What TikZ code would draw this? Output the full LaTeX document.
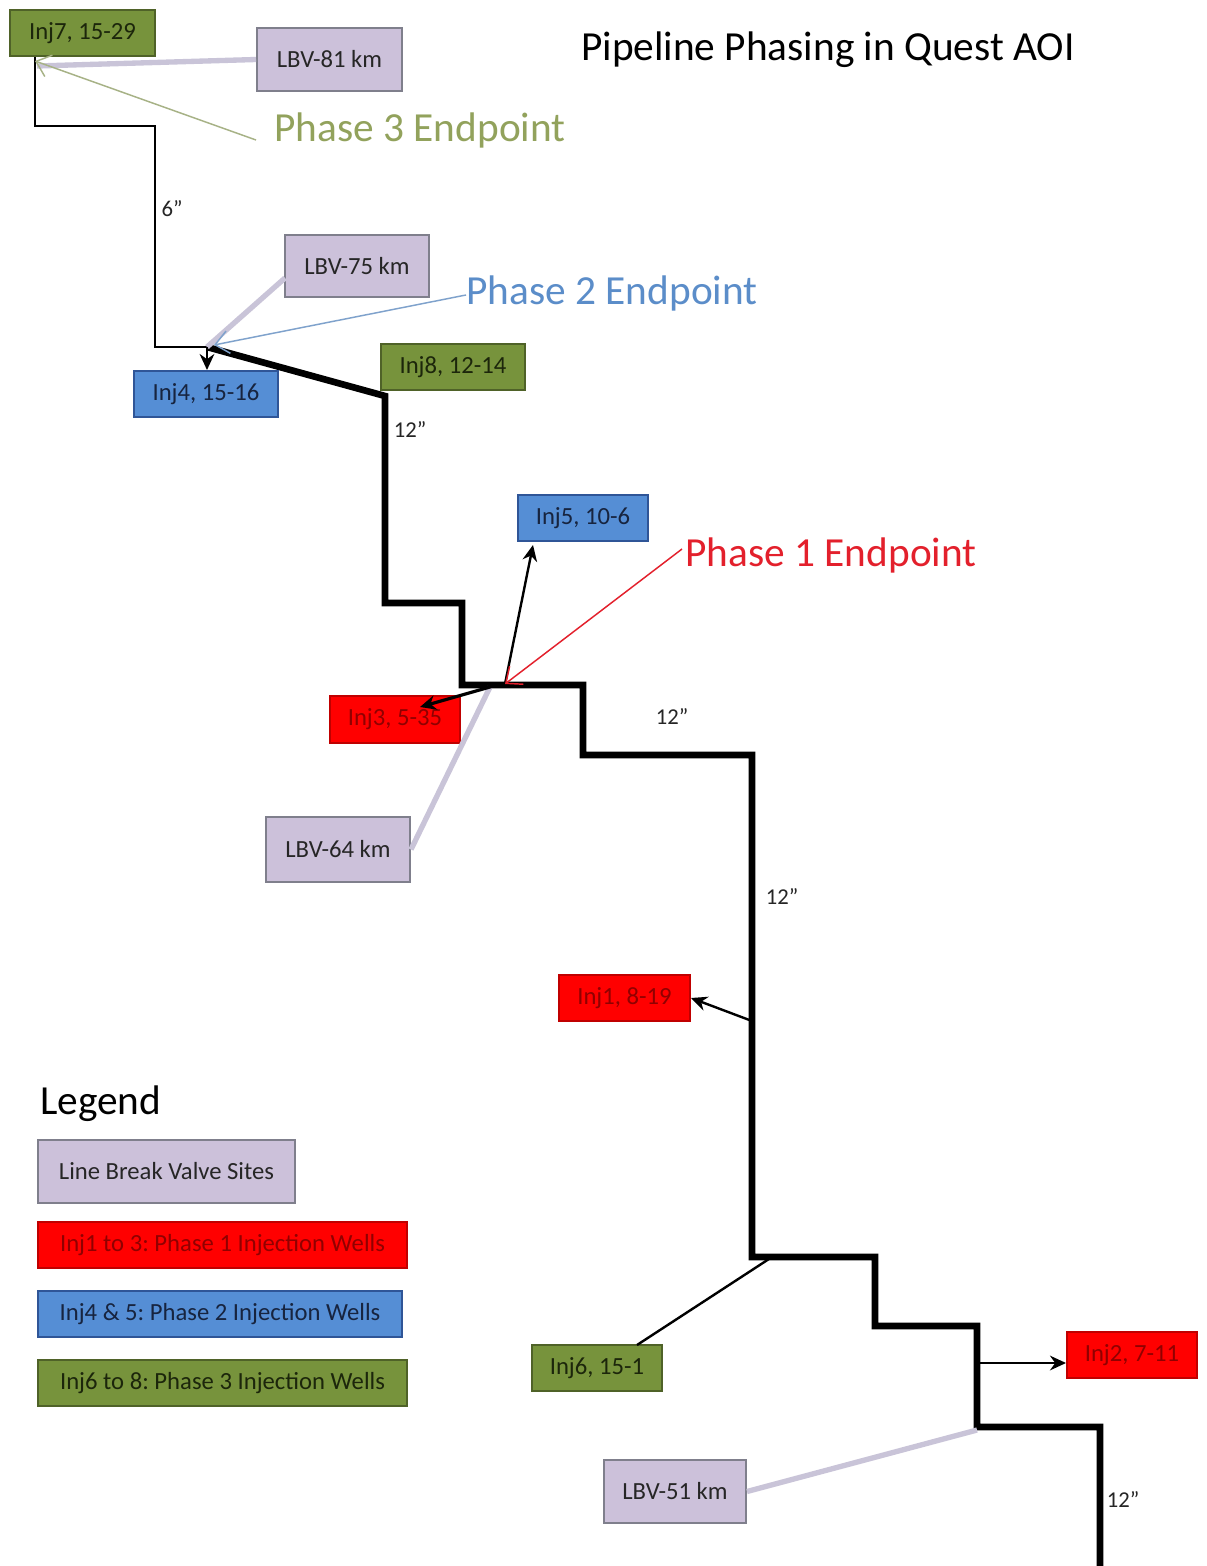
\documentclass[tikz,border=0pt]{standalone}
\usepackage{fontspec}
\setmainfont{Carlito}
\usetikzlibrary{arrows.meta}

\definecolor{lavfill}{HTML}{CCC1DA}
\definecolor{lavline}{HTML}{C9C4D8}
\definecolor{lavedge}{HTML}{7F7F8C}
\definecolor{grnfill}{HTML}{77933C}
\definecolor{grnedge}{HTML}{4F6228}
\definecolor{grntext}{HTML}{1C260B}
\definecolor{redfill}{HTML}{FF0000}
\definecolor{rededge}{HTML}{C00000}
\definecolor{redtext}{HTML}{900000}
\definecolor{blufill}{HTML}{558ED5}
\definecolor{bluedge}{HTML}{2F5597}
\definecolor{blutext}{HTML}{17243F}
\definecolor{phthree}{HTML}{92A25C}
\definecolor{phthreeline}{HTML}{A7B286}
\definecolor{phtwo}{HTML}{5B8DC9}
\definecolor{phtwoline}{HTML}{7FA2CC}
\definecolor{phone}{HTML}{E3202C}

\tikzset{
  wh/.style 2 args={minimum width=#1*0.75pt, minimum height=#2*0.75pt},
  boxbase/.style={draw, line width=1.5pt, inner sep=0pt,
    font=\fontsize{18.5}{22}\selectfont},
  lbv/.style={boxbase, fill=lavfill, draw=lavedge, text=black!85},
  gbox/.style={boxbase, fill=grnfill, draw=grnedge, text=grntext},
  rbox/.style={boxbase, fill=redfill, draw=rededge, text=redtext},
  bbox/.style={boxbase, fill=blufill, draw=bluedge, text=blutext},
  bigtext/.style={font=\fontsize{31}{37}\selectfont, inner sep=0pt},
  sizelabel/.style={font=\fontsize{17}{20}\selectfont, inner sep=0pt, text=black!85},
  thinpipe/.style={line width=2.2pt, line join=miter},
  thickpipe/.style={line width=5pt, line join=miter},
  valveline/.style={lavline, line width=4pt},
  feed/.style={line width=1.8pt, -{Stealth[length=12pt,width=11pt]}},
  pointer/.style={line width=1.1pt, -{Straight Barb[length=10pt,width=17pt]}},
}

\begin{document}
\begin{tikzpicture}[x=0.75pt,y=-0.75pt]
  % canvas
  \fill[white] (0,0) rectangle (1206,1566);
  \useasboundingbox (0,0) rectangle (1206,1566);

  % title and legend heading
  \node[bigtext] (title) at (828,50) {Pipeline Phasing in Quest AOI};
  \node[bigtext, anchor=west] (legendhead) at (40,1104) {Legend};

  % junction points along the pipeline
  \coordinate (p0) at (35,56);
  \coordinate (p1) at (35,126);
  \coordinate (p2) at (155,126);
  \coordinate (p3) at (155,347);
  \coordinate (j75) at (207,347);
  \coordinate (q1) at (385,396);
  \coordinate (q2) at (385,603);
  \coordinate (q3) at (462,603);
  \coordinate (q4) at (462,685);
  \coordinate (q5) at (583,685);
  \coordinate (q6) at (583,755);
  \coordinate (q7) at (752,755);
  \coordinate (q8) at (752,1257);
  \coordinate (q9) at (875,1257);
  \coordinate (q10) at (875,1326);
  \coordinate (q11) at (977,1326);
  \coordinate (q12) at (977,1427);
  \coordinate (q13) at (1100,1427);
  \coordinate (q14) at (1100,1570);
  \coordinate (j3) at (497,685);
  \coordinate (j64) at (490,687);
  \coordinate (j1) at (505,684);
  \coordinate (jinj1) at (752,1021);
  \coordinate (j6) at (772,1257);
  \coordinate (jinj2) at (977,1363);
  \coordinate (j51) at (977,1430);
  \coordinate (j81) at (37,66);
  \coordinate (end3) at (35,61);
  \coordinate (end2) at (214,345);

  % lateral end points at the wells
  \coordinate (t5) at (533,545);
  \coordinate (t3) at (420,707);
  \coordinate (t6) at (637,1345);
  \coordinate (l75) at (285,278);
  \coordinate (s3) at (256,140);
  \coordinate (s2) at (466,295);
  \coordinate (s1) at (682,549);

  % pipeline: 6" segment, then 12" trunk
  \draw[thinpipe] (p0) -- (p1) -- (p2) -- (p3) -- (j75);
  \draw[thickpipe] (j75) -- (q1) -- (q2) -- (q3) -- (q4) -- (q5) -- (q6)
    -- (q7) -- (q8) -- (q9) -- (q10) -- (q11) -- (q12) -- (q13) -- (q14);

  % pipe size labels
  \node[sizelabel] (s6) at (172,209) {6”};
  \node[sizelabel] (s12a) at (410,430) {12”};
  \node[sizelabel] (s12b) at (672,717) {12”};
  \node[sizelabel] (s12c) at (782,896) {12”};
  \node[sizelabel] (s12d) at (1123,1499) {12”};

  % wells
  \node[gbox, wh={145}{46}] (inj7) at (82.5,33) {Inj7, 15-29};
  \node[bbox, wh={144}{46}] (inj4) at (206,394) {Inj4, 15-16};
  \node[gbox, wh={144}{46}] (inj8) at (453,367) {Inj8, 12-14};
  \node[bbox, wh={130}{46}] (inj5) at (583,518) {Inj5, 10-6};
  \node[rbox, wh={130}{47}] (inj3) at (395,719.5) {Inj3, 5-35};
  \node[rbox, wh={131}{46}] (inj1) at (624.5,998) {Inj1, 8-19};
  \node[gbox, wh={130}{46}] (inj6) at (597,1368) {Inj6, 15-1};
  \node[rbox, wh={130}{46}] (inj2) at (1132,1355) {Inj2, 7-11};

  % line break valves
  \node[lbv, wh={145}{63}] (lbv81) at (329.5,59.5) {LBV-81 km};
  \node[lbv, wh={144}{62}] (lbv75) at (357,266) {LBV-75 km};
  \node[lbv, wh={144}{65}] (lbv64) at (338,849.5) {LBV-64 km};
  \node[lbv, wh={142}{63}] (lbv51) at (675,1491.5) {LBV-51 km};

  % valve leaders
  \draw[valveline] (lbv81.west) -- (j81);
  \draw[valveline] (l75) -- (j75);
  \draw[valveline] (lbv64.east) -- (j64);
  \draw[valveline] (lbv51.east) -- (j51);

  % well laterals
  \draw[feed] (j75) -- (inj4.north -| j75);
  \draw[feed] (j1) -- (t5);
  \draw[feed, line width=2.4pt] (j3) -- (t3);
  \draw[feed] (jinj1) -- (inj1.east);
  \draw[feed] (jinj2) -- (inj2.west |- jinj2);
  \draw[line width=1.8pt] (j6) -- (t6);

  % phase endpoints
  \node[bigtext, text=phthree] (ph3) at (420,130) {Phase 3 Endpoint};
  \node[bigtext, text=phtwo] (ph2) at (612,293) {Phase 2 Endpoint};
  \node[bigtext, text=phone] (ph1) at (831,555) {Phase 1 Endpoint};
  \draw[pointer, phthreeline] (s3) -- (end3);
  \draw[pointer, phtwoline] (s2) -- (end2);
  \draw[pointer, phone] (s1) -- (j1);

  % legend
  \node[lbv, wh={257}{63}] (leglbv) at (166.5,1171.5) {Line Break Valve Sites};
  \node[rbox, wh={369}{46}] (legred) at (222.5,1245) {Inj1 to 3:\ Phase 1 Injection Wells};
  \node[bbox, wh={364}{46}] (legblue) at (220,1314) {Inj4 \& 5:\ Phase 2 Injection Wells};
  \node[gbox, wh={369}{46}] (leggreen) at (222.5,1383) {Inj6 to 8:\ Phase 3 Injection Wells};
\end{tikzpicture}
\end{document}
